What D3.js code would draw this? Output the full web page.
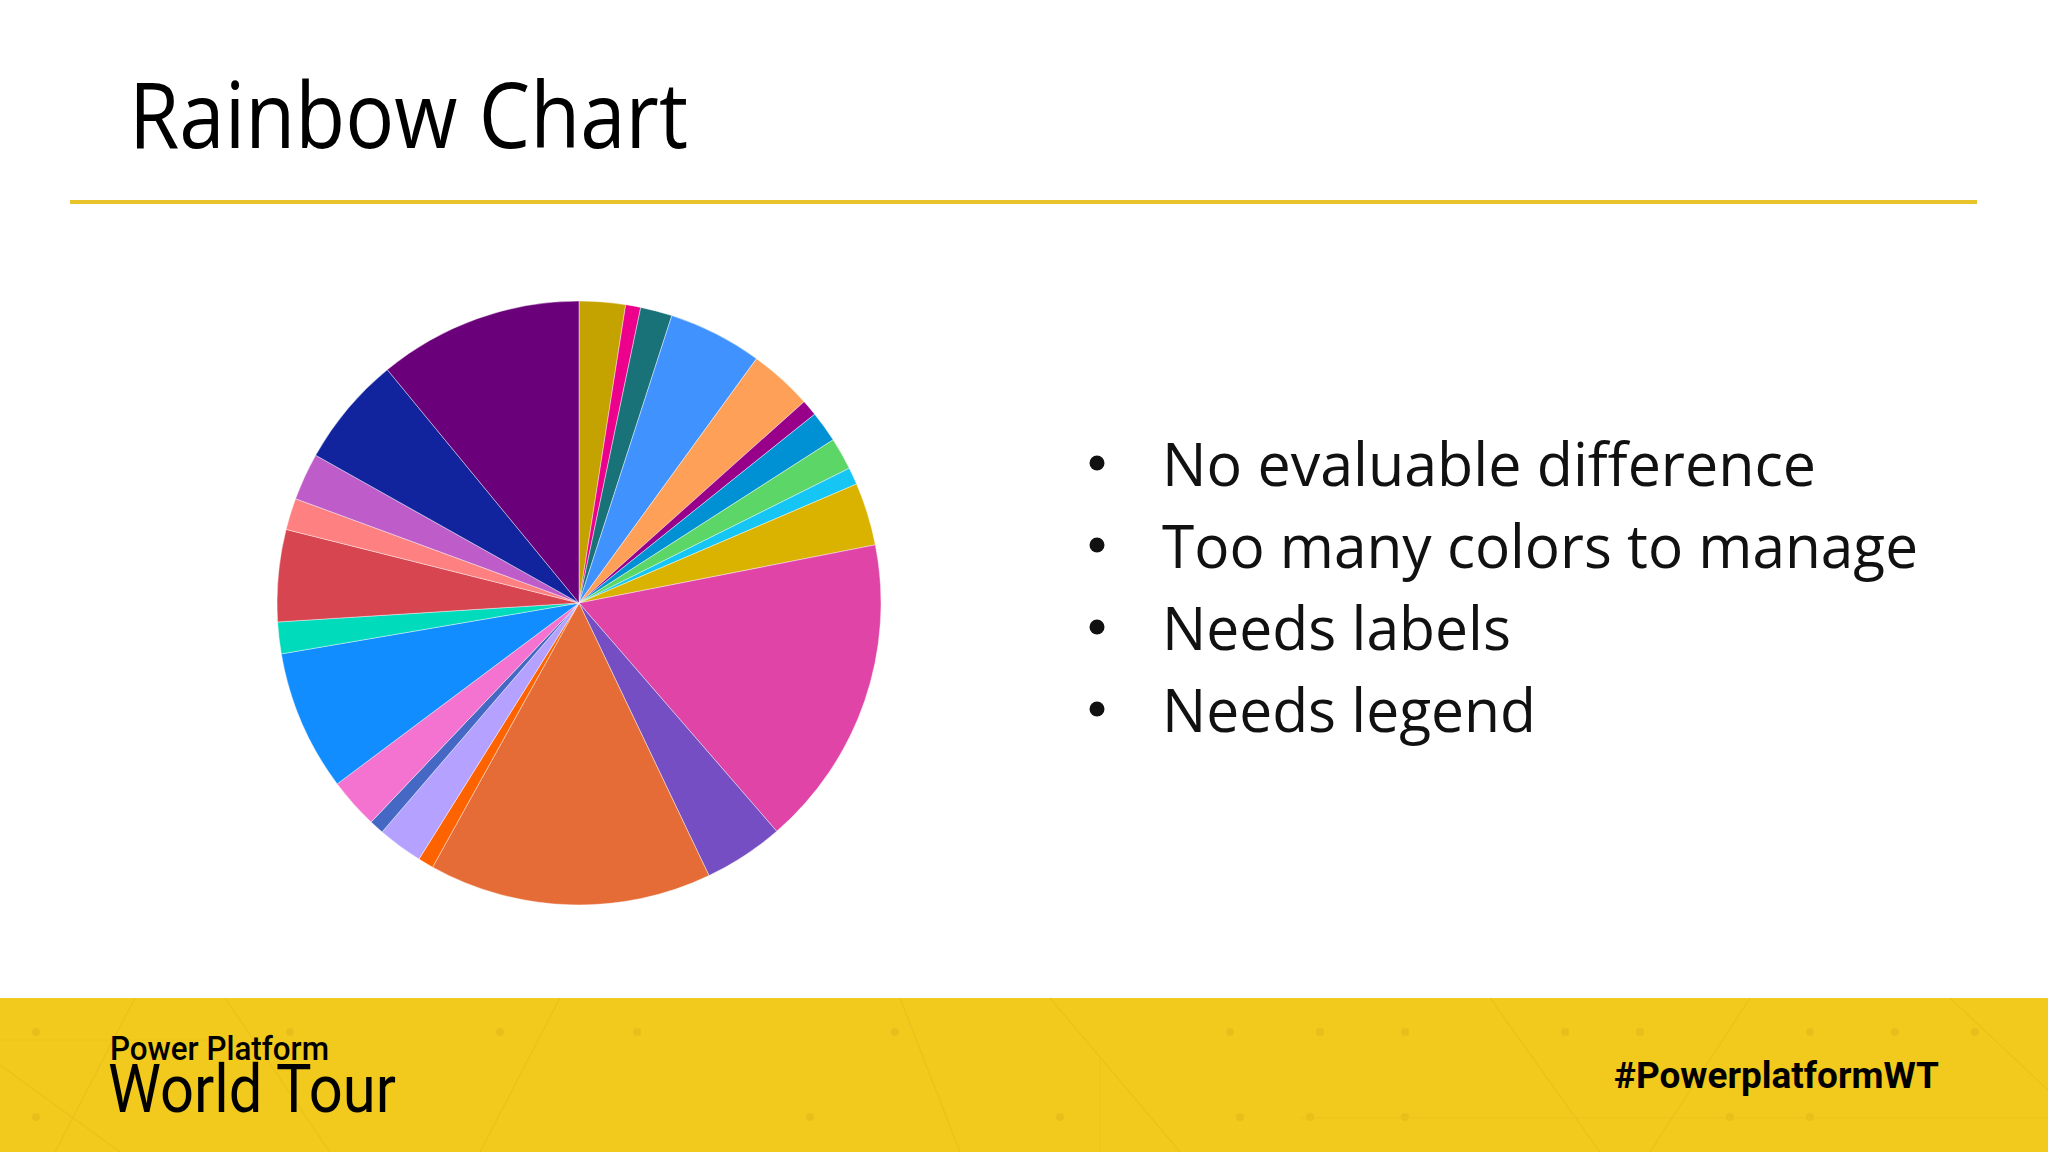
<!DOCTYPE html>
<html>
<head>
<meta charset="utf-8">
<script src="https://cdn.jsdelivr.net/npm/d3@7"></script>
<style>
  html, body { margin: 0; padding: 0; background: #ffffff; }
  svg { display: block; }
</style>
</head>
<body>
<svg id="chart" width="2048" height="1152"></svg>
<script>
// ---- Data ----
const categories = ["A","B","C","D","E","F","G","H","I","J","K","L","M","N","O","P","Q","R","S","T","U","V","W","X"];
const values = [8.9, 2.9, 6.1, 18.1, 12.2, 3.1, 6.0, 6.2, 3.3, 12.1, 60.2, 15.4, 54.5, 3.0, 8.7, 2.8, 9.7, 27.1, 6.1, 17.7, 6.1, 9.1, 21.3, 39.4];
const sliceColors = ["#C4A200","#EC008C","#197278","#4092FF","#FFA058","#99008A","#0091D5","#5BD667","#15C6F4","#D9B300",
                     "#E044A7","#744EC2","#E66C37","#FF6300","#B5A1FF","#4668C5","#F472D0","#118DFF","#00DBBC","#D64550",
                     "#FF8080","#BE5DC9","#12239E","#6B007B"];
const titleText = "Rainbow Chart";
const bullets = ["No evaluable difference","Too many colors to manage","Needs labels","Needs legend"];
const footerLeft = ["Power Platform","World Tour"];
const footerRight = "#PowerplatformWT";

const svg = d3.select("#chart");

// background
svg.append("rect").attr("width",2048).attr("height",1152).attr("fill","#ffffff");

// title
svg.append("text")
  .attr("x",129).attr("y",148)
  .attr("font-family","'Open Sans', sans-serif")
  .attr("font-size",92)
  .attr("fill","#000")
  .attr("textLength",559).attr("lengthAdjust","spacingAndGlyphs")
  .text(titleText);

// yellow rule
svg.append("rect").attr("x",70).attr("y",200).attr("width",1907).attr("height",4).attr("fill","#E9C32B");

// ---- Pie ----
const cx = 579, cy = 603, R = 302;
const pie = d3.pie().sort(null).value(d => d.v);
const arc = d3.arc().innerRadius(0).outerRadius(R);
const data = categories.map((c,i) => ({c, v: values[i]}));
const colorScale = d3.scaleOrdinal().domain(categories).range(sliceColors);

svg.append("g").attr("transform",`translate(${cx},${cy})`)
  .selectAll("path").data(pie(data)).join("path")
  .attr("d",arc)
  .attr("fill",d => colorScale(d.data.c))
  .attr("stroke","#ffffff").attr("stroke-width",0.6).attr("stroke-opacity",0.7);

// ---- Bullets ----
const bulletWidths = [654, 756, 349, 374];
const bg = svg.append("g");
bullets.forEach((t,i) => {
  const by = 486 + i*82;
  bg.append("circle").attr("cx",1097).attr("cy",by-23).attr("r",7.5).attr("fill","#111");
  bg.append("text")
    .attr("x",1162).attr("y",by)
    .attr("font-family","'Open Sans', sans-serif")
    .attr("font-size",61)
    .attr("fill","#111")
    .attr("textLength",bulletWidths[i]).attr("lengthAdjust","spacingAndGlyphs")
    .text(t);
});

// ---- Footer band ----
const fy = 998;
svg.append("rect").attr("x",0).attr("y",fy).attr("width",2048).attr("height",1152-fy).attr("fill","#F2C91D");
const deco = svg.append("g").attr("opacity",0.3);
[36,290,500,637,895,1230,1320,1405,1565,1640,1810,1895,1975].forEach(x => {
  deco.append("circle").attr("cx",x).attr("cy",1032).attr("r",4).attr("fill","#D0AA18");
});
[36,810,1060,1240,1310,1405,1730,1810].forEach(x => {
  deco.append("circle").attr("cx",x).attr("cy",1117).attr("r",4).attr("fill","#D0AA18");
});
const lines = [[135,998,55,1152],[225,998,330,1152],[560,998,480,1152],[900,998,960,1152],[1050,998,1180,1152],[1490,998,1600,1152],[1750,998,1650,1152],[1950,998,2048,1090],[0,1065,120,1152]];
lines.forEach(l => deco.append("line").attr("x1",l[0]).attr("y1",l[1]).attr("x2",l[2]).attr("y2",l[3]).attr("stroke","#D8B218").attr("stroke-width",1.2));
[[0,1040,230,1040],[1300,1118,2048,1118],[1100,1060,1100,1152]].forEach(l => deco.append("line").attr("x1",l[0]).attr("y1",l[1]).attr("x2",l[2]).attr("y2",l[3]).attr("stroke","#E0B818").attr("stroke-width",1));

svg.append("text")
  .attr("x",110).attr("y",1060)
  .attr("font-family","Roboto, sans-serif").attr("font-weight",500)
  .attr("font-size",34).attr("fill","#000")
  .attr("textLength",219).attr("lengthAdjust","spacingAndGlyphs")
  .text(footerLeft[0]);
svg.append("text")
  .attr("x",108).attr("y",1112)
  .attr("font-family","Roboto, sans-serif").attr("font-weight",400)
  .attr("font-size",66).attr("fill","#000")
  .attr("textLength",288).attr("lengthAdjust","spacingAndGlyphs")
  .text(footerLeft[1]);
svg.append("text")
  .attr("x",1614).attr("y",1088)
  .attr("font-family","Roboto, sans-serif").attr("font-weight",700)
  .attr("font-size",36).attr("fill","#000")
  .attr("textLength",325).attr("lengthAdjust","spacingAndGlyphs")
  .text(footerRight);
</script>
</body>
</html>
